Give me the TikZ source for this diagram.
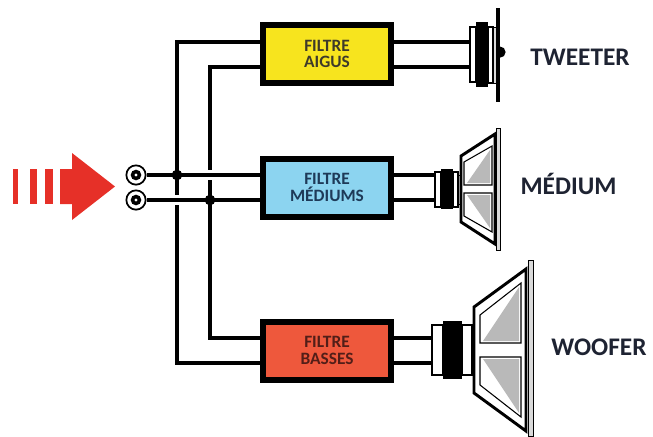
\documentclass[tikz,border=0pt]{standalone}
\usepackage{fontspec}
\setmainfont{Carlito}
\usetikzlibrary{calc}

\definecolor{aigus}{RGB}{247,228,30}
\definecolor{mediums}{RGB}{140,212,240}
\definecolor{basses}{RGB}{238,88,60}
\definecolor{aigusink}{RGB}{62,58,42}
\definecolor{mediumsink}{RGB}{30,58,88}
\definecolor{bassesink}{RGB}{82,30,24}
\definecolor{labelink}{RGB}{30,35,50}
\definecolor{arrowred}{RGB}{230,48,40}
\definecolor{conegray}{RGB}{185,185,185}

\begin{document}
\begin{tikzpicture}[x=0.75pt,y=-0.75pt,
  wire/.style={line width=3pt, line join=miter, line cap=butt},
  gap/.style={white, line width=7.5pt},
  filterbox/.style={draw=black, line width=4.5pt, minimum width=96pt,
    minimum height=43.5pt, inner sep=0pt, align=center,
    font=\fontsize{13pt}{12.5pt}\selectfont\bfseries},
  spklabel/.style={anchor=base, text=labelink,
    font=\fontsize{19pt}{22pt}\selectfont\bfseries},
  terminal/.style={circle, draw=black, fill=white, line width=1.3pt,
    minimum size=14.5pt, inner sep=0pt},
  capring/.style={draw=black, fill=white, line width=0.8pt},
  magnet/.style={fill=black},
  cone/.style={draw=black, fill=white, line width=2.2pt, line join=miter},
  panel/.style={draw=black, fill=white, line width=0.8pt},
  frame/.style={draw=black, fill=gray!30, line width=0.5pt}
]
\useasboundingbox (0,0) rectangle (653,436);

% ---- input arrow ----
\fill[arrowred] (13,169) rectangle (18,204);
\fill[arrowred] (30,169) rectangle (37,204);
\fill[arrowred] (45,169) rectangle (53,204);
\fill[arrowred] (60,169) -- (72,169) -- (72,153) -- (115,186.5)
  -- (72,220) -- (72,204) -- (60,204) -- cycle;

% ---- filters ----
\node[filterbox, fill=aigus, text=aigusink] (fA) at (327,54) {FILTRE\\AIGUS};
\node[filterbox, fill=mediums, text=mediumsink] (fM) at (327,187.5) {FILTRE\\MÉDIUMS};
\node[filterbox, fill=basses, text=bassesink] (fB) at (327,350.5) {FILTRE\\BASSES};

% ---- terminals and junctions ----
\node[terminal] (tA) at (136,175) {};
\node[terminal] (tB) at (136,200) {};
\coordinate (jA) at (177,175);
\coordinate (jB) at (210,200);
\coordinate (xA) at (jA |- tB);
\coordinate (xB) at (jB |- tA);

\coordinate (aIn1) at ($(fA.west)+(0,-12)$);
\coordinate (aIn2) at ($(fA.west)+(0,12.5)$);
\coordinate (mIn1) at (fM.west |- tA);
\coordinate (mIn2) at (fM.west |- tB);
\coordinate (bIn1) at ($(fB.west)+(0,-12.5)$);
\coordinate (bIn2) at ($(fB.west)+(0,12.5)$);

\draw[wire] (aIn1) -| (jA) |- (bIn2);
\draw[wire] (aIn2) -| (jB) |- (bIn1);
\draw[gap] ($(xA)+(-9,0)$) -- ($(xA)+(9,0)$);
\draw[gap] ($(xB)+(-9,0)$) -- ($(xB)+(9,0)$);
\draw[wire] (tA) -- (mIn1);
\draw[wire] (tB) -- (mIn2);
\fill (jA) circle[radius=4pt];
\fill (jB) circle[radius=4pt];
\fill (tA) circle[radius=4pt];
\fill (tB) circle[radius=4pt];
\fill[white] (tA) circle[radius=1.2pt];
\fill[white] (tB) circle[radius=1.2pt];

% ---- tweeter ----
\coordinate (twIn) at (470,54);
\draw[wire] ($(fA.east)+(0,-12)$) -- ($(twIn)+(0,-12)$);
\draw[wire] ($(fA.east)+(0,12.5)$) -- ($(twIn)+(0,12.5)$);
\draw[capring] (470,27) rectangle (476,82);
\fill[magnet] (476,22) rectangle (488,87);
\draw[capring] (488,27) rectangle (493,83);
\draw[frame] (493,27) rectangle (496,83);
\draw[line width=3pt] (498,8) -- (498,102);
\fill (500,46.5) arc[start angle=90, end angle=-90, radius=4.2pt];

% ---- medium ----
\coordinate (mdIn) at (435,189);
\draw[wire] ($(fM.east)+(0,-12.5)$) -- (mdIn |- tA);
\draw[wire] ($(fM.east)+(0,12.5)$) -- (mdIn |- tB);
\draw[capring] (435,172) rectangle (441,207);
\fill[magnet] (441,169) rectangle (453,209);
\draw[capring] (453,172) rectangle (458,207);
\draw[frame] (458,175) rectangle (461,204);
\draw[cone] (461,156) -- (495,134) -- (495,244) -- (461,222) -- cycle;
\draw[frame] (496.5,128) rectangle (500,250);
\draw[panel] (464,162) -- (492,146) -- (492,185) -- (464,185) -- cycle;
\fill[conegray] (467,183) -- (490,150) -- (490,183) -- cycle;
\draw[panel] (464,193) -- (492,193) -- (492,232) -- (464,216) -- cycle;
\fill[conegray] (467,195) -- (490,195) -- (490,228) -- cycle;

% ---- woofer ----
\coordinate (wfIn) at (432,350);
\draw[wire] (bIn1 -| fB.east) -- (wfIn |- bIn1);
\draw[wire] (bIn2 -| fB.east) -- (wfIn |- bIn2);
\draw[capring] (432,325) rectangle (443,375);
\fill[magnet] (443,321) rectangle (462,379);
\draw[capring] (462,325) rectangle (472,375);
\draw[cone] (474,307) -- (526,269) -- (526,431) -- (474,393) -- cycle;
\draw[frame] (528,260) rectangle (533,436);
\draw[panel] (480,315) -- (521,283) -- (521,343) -- (480,343) -- cycle;
\fill[conegray] (483,341) -- (519,287) -- (519,341) -- cycle;
\draw[panel] (480,357) -- (521,357) -- (521,417) -- (480,385) -- cycle;
\fill[conegray] (483,359) -- (519,359) -- (519,413) -- cycle;

% ---- speaker names ----
\node[spklabel] (tw) at (580,65) {TWEETER};
\node[spklabel] (md) at (568.5,194) {MÉDIUM};
\node[spklabel] (wf) at (599,355) {WOOFER};
\end{tikzpicture}
\end{document}
